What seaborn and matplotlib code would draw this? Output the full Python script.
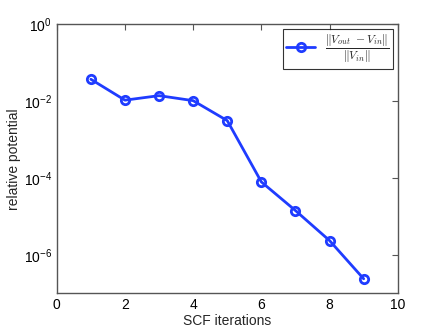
import matplotlib
matplotlib.use("Agg")
import matplotlib.pyplot as plt
import seaborn as sns
import pandas as pd

# SCF convergence data
iterations = [1, 2, 3, 4, 5, 6, 7, 8, 9]
rel_potential = [0.0371, 0.0106, 0.0139, 0.0103, 0.00311, 7.9e-5, 1.42e-5, 2.35e-6, 2.38e-7]
legend_label = r"$\frac{\|V_{out}\ -V_{in}\|}{\|V_{in}\|}$"

df = pd.DataFrame({"iter": iterations, "res": rel_potential})

sns.set_style("white")
plt.rcParams["font.family"] = ["Liberation Sans", "DejaVu Sans"]
plt.rcParams["mathtext.fontset"] = "cm"

fig = plt.figure(figsize=(4.4, 3.31), dpi=100)
ax = fig.add_axes([0.129, 0.114, 0.775, 0.8126])

sns.lineplot(data=df, x="iter", y="res", ax=ax, color="#1f3cff", linewidth=2,
             marker="o", markersize=6, markerfacecolor="none",
             markeredgecolor="#1f3cff", markeredgewidth=2, label=legend_label)

ax.set_yscale("log")
ax.set_xlim(0, 10)
ax.set_ylim(1e-7, 1)
ax.set_xticks([0, 2, 4, 6, 8, 10])
ax.set_yticks([1e0, 1e-2, 1e-4, 1e-6])
ax.minorticks_off()
ax.tick_params(direction="in", length=4, width=0.8, colors="#555555",
               labelcolor="black", labelsize=10, top=True, right=True)
for s in ax.spines.values():
    s.set_color("#555555")
    s.set_linewidth(1)

ax.set_xlabel("SCF iterations", fontsize=10, labelpad=1)
ax.set_ylabel("relative potential", fontsize=10)
ax.yaxis.set_label_coords(-0.105, 0.5)

leg = ax.legend(loc="upper right", fontsize=12, frameon=True, fancybox=False,
                borderaxespad=0.3, borderpad=0.2, handlelength=1.7,
                handletextpad=0.6)
leg.get_frame().set_edgecolor("black")
leg.get_frame().set_linewidth(0.8)

fig.savefig("out.png", dpi=100)
